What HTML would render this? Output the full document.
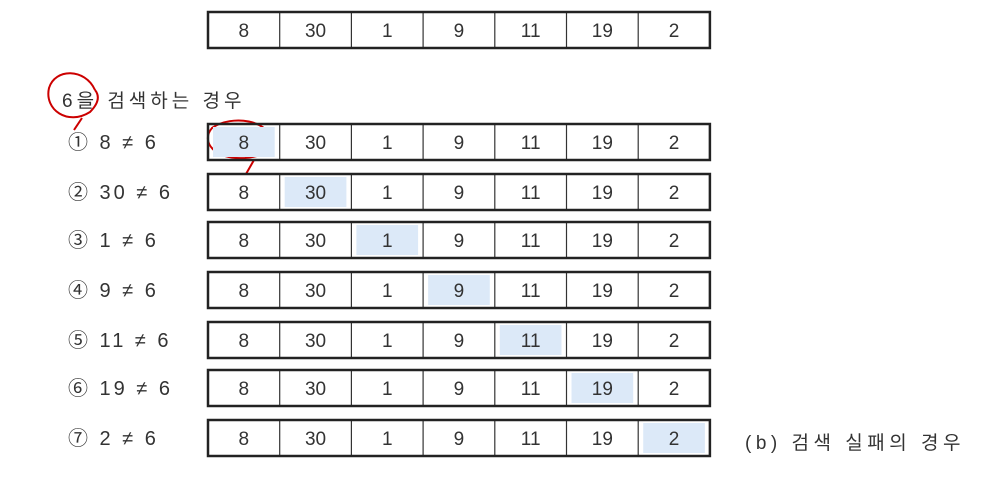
<!DOCTYPE html>
<html><head><meta charset="utf-8"><style>
body{margin:0;background:#fff;width:1000px;height:489px;overflow:hidden}
svg text{font-family:"Liberation Sans","Noto Sans CJK KR",sans-serif;fill:#333}
</style></head><body>
<svg id="s" width="1000" height="489">
<text x="62" y="107" font-size="19" letter-spacing="4">6을 검색하는 경우</text>
<text x="745" y="449" font-size="19" letter-spacing="4.5">(b) 검색 실패의 경우</text>
<path d="M95,90 C85,68 55,68 49,88 C44,110 68,126 90,112 C100,102 99,95 95,90 M82,118 L74,130" fill="none" stroke="#c00" stroke-width="2"/>
<path d="M272,142 C270,120 232,114 212,128 C200,142 215,160 245,158 C264,156 274,150 272,142 M254,160 L246,174" fill="none" stroke="#c00" stroke-width="2"/>
</svg>
<script>
const values=[8,30,1,9,11,19,2];
const target=6;
const rowTops=[12,124,174,222,272,322,370,420];
const s=document.getElementById('s');
const ns='http://www.w3.org/2000/svg';
const x0=208,cw=71.7,h=36;
function mk(t,a){const e=document.createElementNS(ns,t);for(const k in a)e.setAttribute(k,a[k]);s.appendChild(e);return e;}
rowTops.forEach((y,r)=>{
  const hi=r-1;
  for(let i=0;i<values.length;i++){
    const x=x0+i*cw;
    if(i===hi){const f=mk('rect',{x:x+5,y:y+3,width:cw-10,height:h-6,fill:'#dce9f8'});
      
      }
    if(i>0){const l=mk('line',{x1:x,y1:y,x2:x,y2:y+h,stroke:'#333','stroke-width':1.2});
      
      }
    const t=mk('text',{x:x+cw/2,y:y+h/2+7,'text-anchor':'middle','font-size':19});
    t.textContent=values[i];
    
    
  }
  const b=mk('rect',{x:x0,y:y,width:cw*values.length,height:h,fill:'none',stroke:'#222','stroke-width':2.5});
  
  
  if(r>0){
    const lab=mk('text',{x:68,y:y+h/2+7,'font-size':20,'letter-spacing':3});
    lab.textContent=String.fromCharCode(0x2460+r-1)+' '+values[r-1]+' ≠ '+target;
    
    
  }
});
</script>
</body></html>
